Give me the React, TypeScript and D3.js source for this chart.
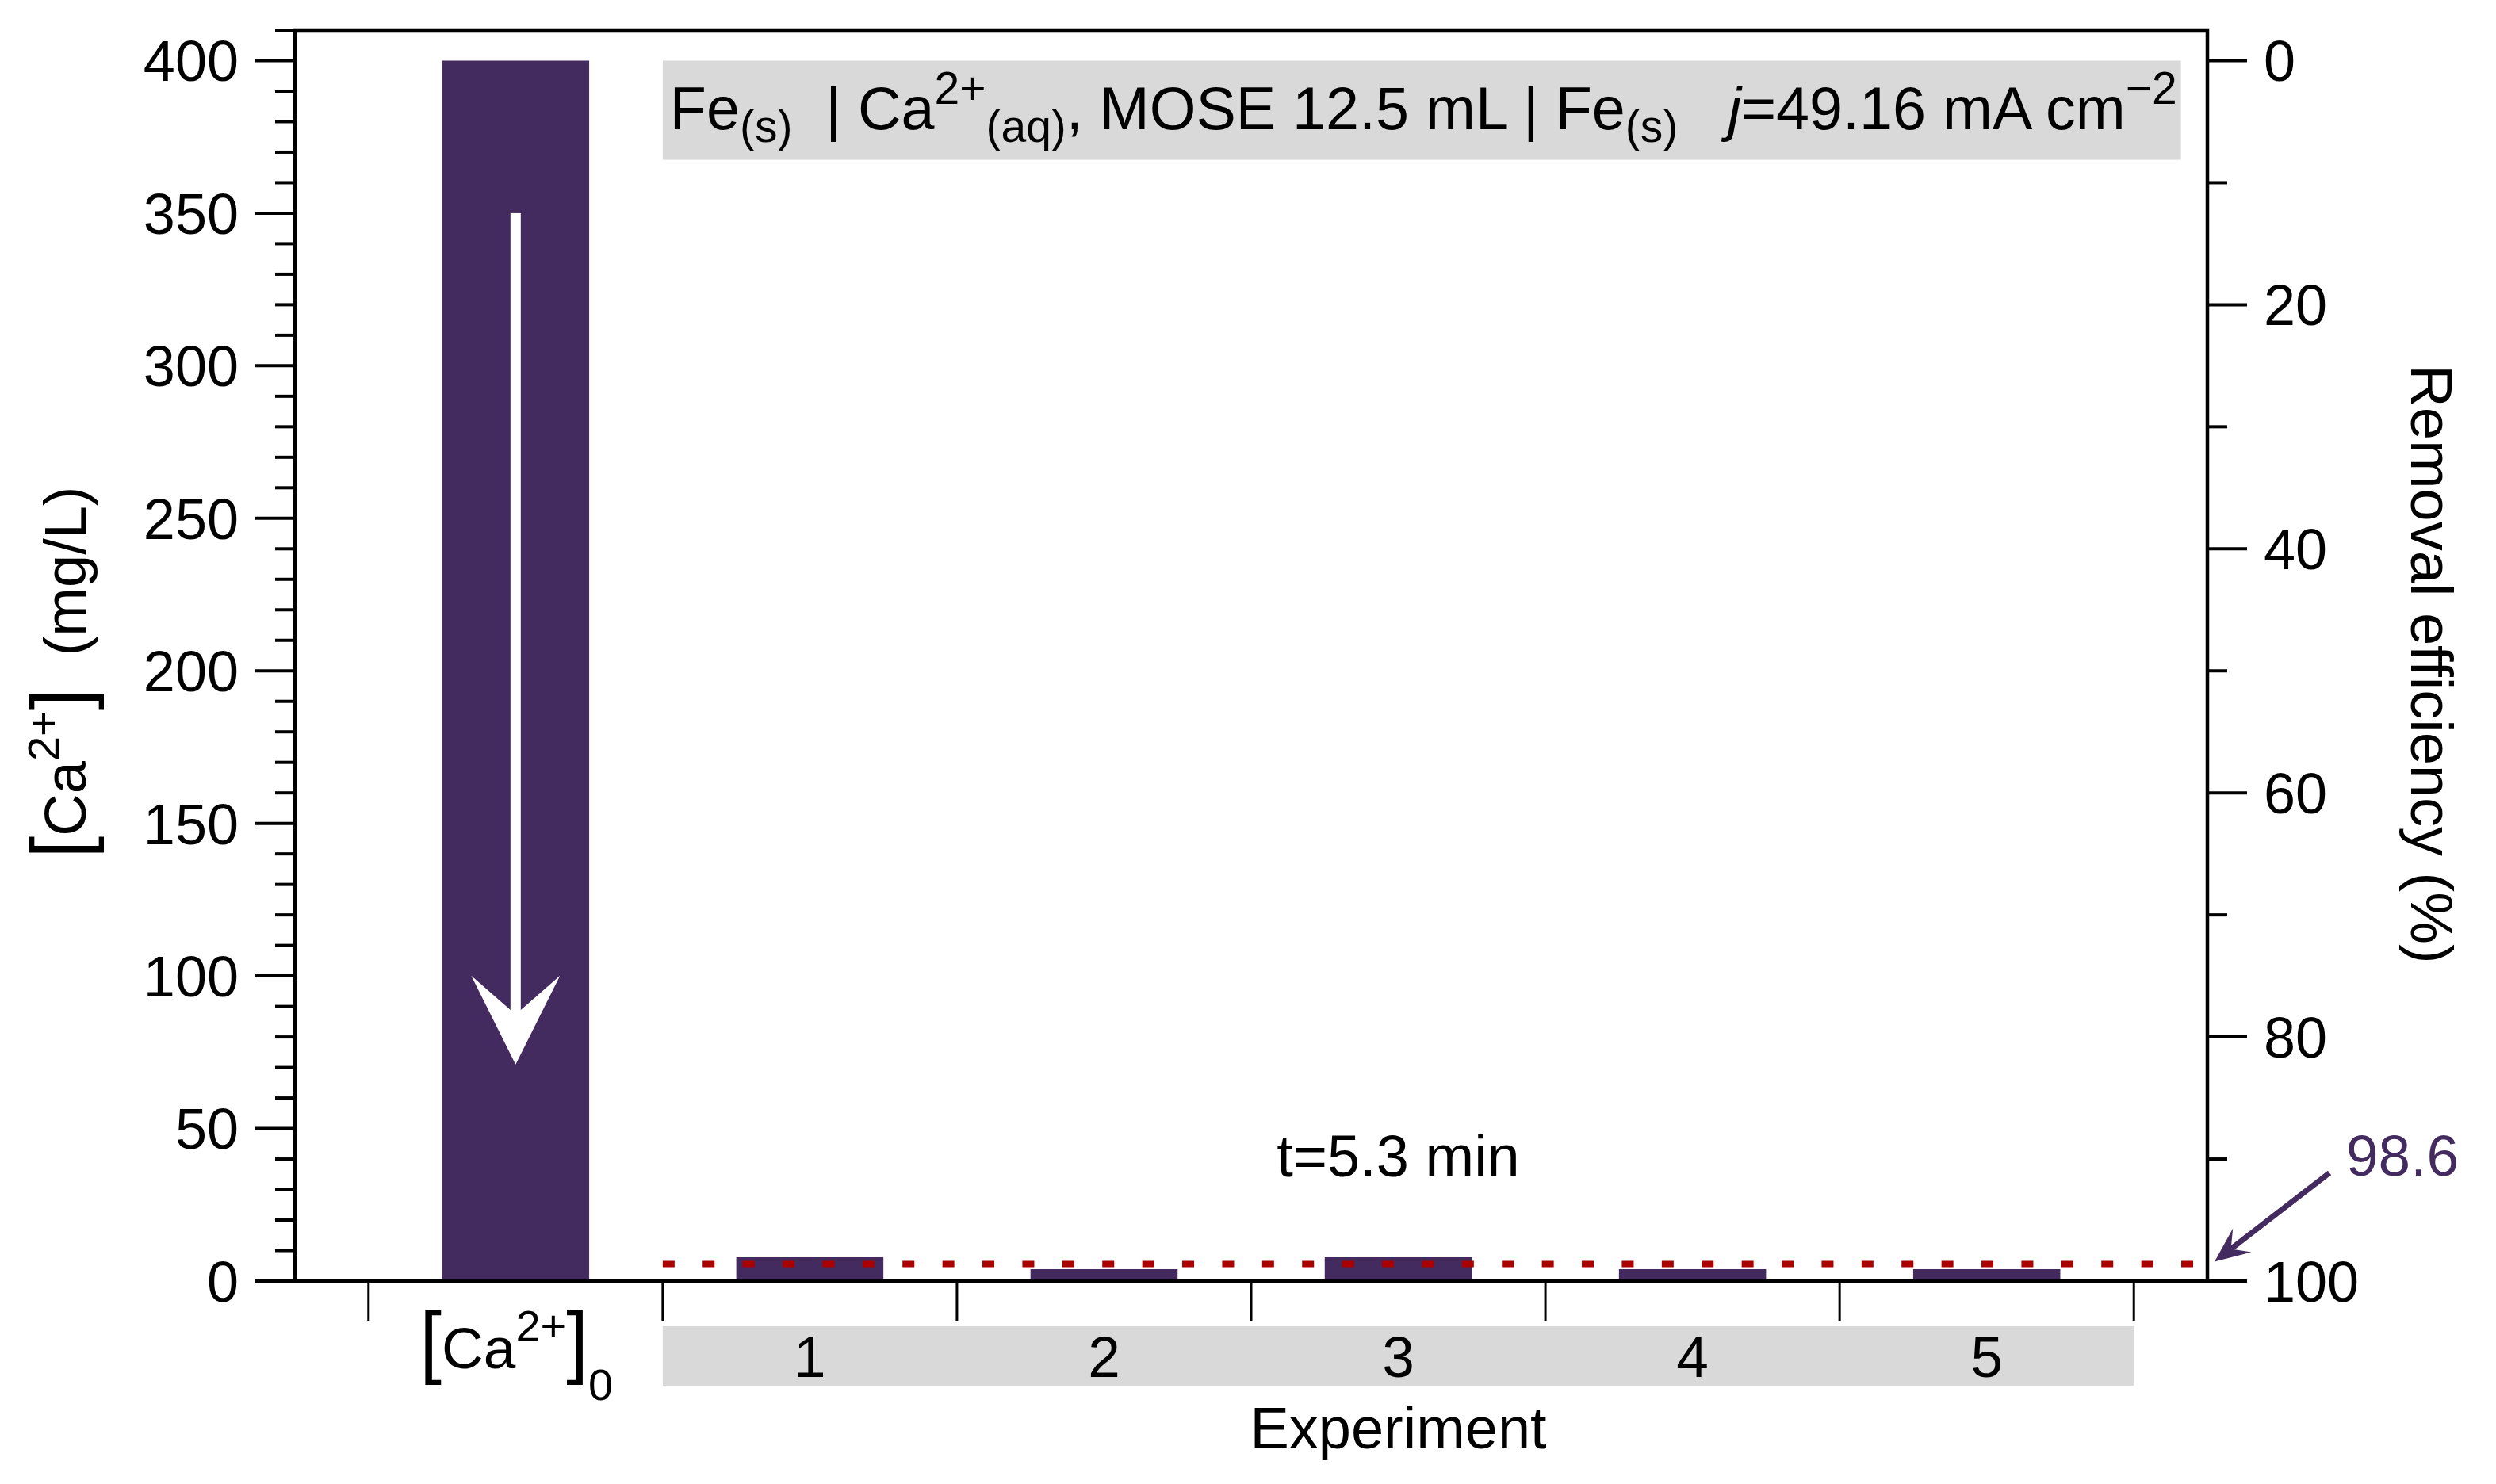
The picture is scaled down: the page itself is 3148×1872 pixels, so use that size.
import React from "react";
import * as d3 from "d3";

// ---- data ----
const categories = ["[Ca2+]0", "1", "2", "3", "4", "5"];
const concentrations = [400, 7.8, 3.9, 7.8, 3.9, 3.9]; // mg/L
const leftTicks = [0, 50, 100, 150, 200, 250, 300, 350, 400];
const rightTicks = [0, 20, 40, 60, 80, 100];
const removalEfficiency = 98.6; // %
const initialConc = 400;
const arrowFrom = 350; // white arrow in the first bar (mg/L)
const arrowTo = 71;
const timeLabel = "t=5.3 min";

const FONT = "'Liberation Sans', Arial, Helvetica, sans-serif";
const BAR = "#432B5F";
const GRAY = "#D9D9D9";
const RED = "#AA0000";

function head(tx: number, ty: number, fx: number, fy: number, len: number, hw: number, notch: number) {
  const dx = fx - tx, dy = fy - ty;
  const L = Math.hypot(dx, dy);
  const ux = dx / L, uy = dy / L;
  const nx = -uy, ny = ux;
  const p = [
    [tx, ty],
    [tx + ux * len + nx * hw, ty + uy * len + ny * hw],
    [tx + ux * notch, ty + uy * notch],
    [tx + ux * len - nx * hw, ty + uy * len - ny * hw],
  ];
  return p.map((q) => q.join(",")).join(" ");
}

export default function App() {
  const W = 3148, H = 1872;
  const x = d3.scaleLinear().domain([-0.75, 5.75]).range([372, 2784]);
  const y = d3.scaleLinear().domain([0, 410]).range([1616, 38]);
  const yR = d3.scaleLinear().domain([0, 100]).range([y(initialConc), y(0)]);

  const F = 73;
  const TF = 72;
  const S = 56;
  const TT = 75.5;
  const ST = 57;
  const xl = x(-0.75), xr = x(5.75), y0 = y(0), yt = y(410);

  const minorL = d3.range(0, 411, 10).filter((v) => v % 50 !== 0);
  const minorR = d3.range(0, 101, 10).filter((v) => v % 20 !== 0);
  const xTicks = d3.range(-0.5, 5.51, 1);

  const lineVal = initialConc * (1 - removalEfficiency / 100);
  const tipX = xr + 9, tipY = yR(removalEfficiency) - 3;
  const tailX = tipX + 145, tailY = tipY - 112;

  const ax = x(0);
  return (
    <svg width={W} height={H} style={{ position: "absolute", left: 0, top: 0, display: "block", background: "#fff" }} fontFamily={FONT}>
      <rect x={0} y={0} width={W} height={H} fill="#fff" />
      {/* title box */}
      <rect x={x(0.5)} y={y(400)} width={x(5.66) - x(0.5)} height={y(367.5) - y(400)} fill={GRAY} />
      <text x={x(0.5) + 9} y={163} fontSize={TT} xmlSpace="preserve" style={{ whiteSpace: "pre" }}>
        <tspan>Fe</tspan>
        <tspan fontSize={ST} dy={16}>(s)</tspan>
        <tspan dy={-16}>{"  | Ca"}</tspan>
        <tspan fontSize={ST} dy={-32}>2+</tspan>
        <tspan fontSize={ST} dy={48}>(aq)</tspan>
        <tspan dy={-16}>{", MOSE 12.5 mL | Fe"}</tspan>
        <tspan fontSize={ST} dy={16}>(s)</tspan>
        <tspan dy={-16}>{"   "}</tspan>
        <tspan fontStyle="italic">j</tspan>
        <tspan>=49.16 mA cm</tspan>
        <tspan fontSize={ST} dy={-32}>{"\u22122"}</tspan>
      </text>

      {/* bars */}
      {concentrations.map((v, i) => (
        <rect key={i} x={x(i - 0.25)} y={y(v)} width={x(i + 0.25) - x(i - 0.25)} height={y(0) - y(v)} fill={BAR} />
      ))}

      {/* white arrow */}
      <rect x={ax - 6.5} y={y(arrowFrom)} width={13} height={y(arrowTo) - y(arrowFrom) - 60} fill="#fff" />
      <polygon points={head(ax, y(arrowTo), ax, y(arrowFrom), 112, 56, 63)} fill="#fff" />

      {/* red dotted line */}
      <line x1={x(0.5)} x2={xr - 4} y1={y(lineVal)} y2={y(lineVal)} stroke={RED} strokeWidth={8} strokeDasharray="15 35.4" />

      {/* frame */}
      <path d={`M${xl},${y0} V${yt} H${xr} V${y0}`} fill="none" stroke="#000" strokeWidth={4.5} strokeLinejoin="miter" />
      <line x1={xl - 51} x2={xr + 50} y1={y0} y2={y0} stroke="#000" strokeWidth={4.5} />

      {/* left ticks */}
      {leftTicks.map((v) => (
        <g key={"l" + v}>
          <line x1={xl - 51} x2={xl} y1={y(v)} y2={y(v)} stroke="#000" strokeWidth={4} />
          <text x={xl - 71} y={y(v)} dy="0.36em" textAnchor="end" fontSize={TF}>{v}</text>
        </g>
      ))}
      {minorL.map((v) => (
        <line key={"lm" + v} x1={xl - 25} x2={xl} y1={y(v)} y2={y(v)} stroke="#000" strokeWidth={4} />
      ))}

      {/* right ticks */}
      {rightTicks.map((v) => (
        <g key={"r" + v}>
          <line x1={xr} x2={xr + 50} y1={yR(v)} y2={yR(v)} stroke="#000" strokeWidth={4} />
          <text x={xr + 71} y={yR(v)} dy="0.36em" textAnchor="start" fontSize={TF}>{v}</text>
        </g>
      ))}
      {minorR.map((v) => (
        <line key={"rm" + v} x1={xr} x2={xr + 25} y1={yR(v)} y2={yR(v)} stroke="#000" strokeWidth={4} />
      ))}

      {/* x ticks */}
      {xTicks.map((t) => (
        <line key={"x" + t} x1={x(t)} x2={x(t)} y1={y0} y2={y0 + 50} stroke="#000" strokeWidth={3} />
      ))}

      {/* experiment band */}
      <rect x={x(0.5)} y={y0 + 57} width={x(5.5) - x(0.5)} height={75} fill={GRAY} />
      {categories.slice(1).map((c, i) => (
        <text key={c} x={x(i + 1)} y={y0 + 121} textAnchor="middle" fontSize={F}>{c}</text>
      ))}
      {/* first category label */}
      <text x={x(0) - 121} y={y0 + 110} fontSize={F} xmlSpace="preserve" style={{ whiteSpace: "pre" }}>
        <tspan fontSize={100}>[</tspan>
        <tspan>Ca</tspan>
        <tspan fontSize={S} dy={-34}>2+</tspan>
        <tspan fontSize={100} dy={34}>]</tspan>
        <tspan fontSize={S} dy={40}>0</tspan>
      </text>
      <text x={x(3)} y={y0 + 211} textAnchor="middle" fontSize={74}>Experiment</text>

      {/* time label */}
      <text x={x(3)} y={1484} textAnchor="middle" fontSize={74}>{timeLabel}</text>

      {/* left axis title */}
      <text transform={`translate(108,848) rotate(-90)`} textAnchor="middle" fontSize={74} xmlSpace="preserve" style={{ whiteSpace: "pre" }}>
        <tspan fontSize={100} dy={2}>[</tspan>
        <tspan dy={-2}>Ca</tspan>
        <tspan fontSize={S} dy={-34}>2+</tspan>
        <tspan fontSize={100} dy={36}>]</tspan>
        <tspan dy={-2}>{"  (mg/L)"}</tspan>
      </text>

      {/* right axis title */}
      <text transform={`translate(3041,838) rotate(90)`} textAnchor="middle" fontSize={74}>Removal efficiency (%)</text>

      {/* 98.6 annotation */}
      <line x1={tailX} y1={tailY} x2={tipX + (tailX - tipX) * 0.12} y2={tipY + (tailY - tipY) * 0.12} stroke={BAR} strokeWidth={7} />
      <polygon points={head(tipX, tipY, tailX, tailY, 44, 19, 26)} fill={BAR} />
      <text x={tailX + 21} y={tailY + 4} fontSize={73} fill={BAR}>{removalEfficiency}</text>
    </svg>
  );
}
